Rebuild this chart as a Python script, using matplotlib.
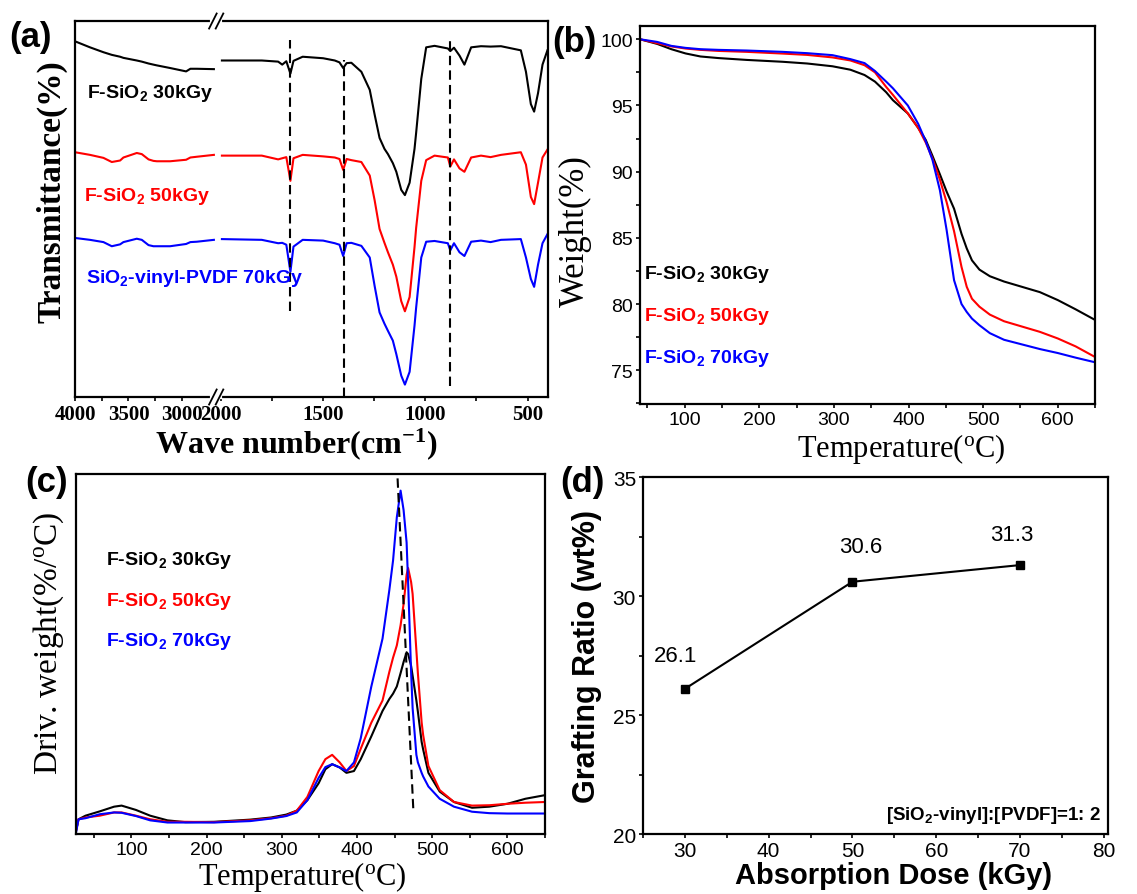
import numpy as np
import matplotlib
matplotlib.use('Agg')
import matplotlib.pyplot as plt
from matplotlib.ticker import MultipleLocator, FixedLocator

plt.rcParams['mathtext.default'] = 'regular'
SERIF = 'Liberation Serif'
SANS = 'Liberation Sans'

# ---- (a) FTIR, high wavenumber segment ----
wn_hi = [4000, 3860, 3734, 3656, 3578, 3547, 3422, 3375, 3312, 3266, 3234, 3110, 2960, 2920, 2860, 2700]
ir30_hi = [94.6, 93.0, 91.7, 91.0, 90.5, 90.2, 89.5, 89.2, 88.7, 88.4, 88.2, 87.5, 86.6, 87.3, 87.3, 87.2]
ir50_hi = [65.1, 64.4, 63.6, 62.5, 62.9, 63.7, 64.9, 64.6, 63.2, 62.8, 62.7, 62.7, 63.1, 63.7, 63.9, 64.4]
ir70_hi = [42.3, 41.8, 41.2, 40.1, 40.6, 41.2, 42.1, 41.8, 40.4, 40.1, 40.1, 40.1, 40.7, 41.2, 41.3, 41.8]

# ---- (a) FTIR, low wavenumber segment ----
wn_lo = [1995, 1800, 1720, 1700, 1680, 1660, 1645, 1600, 1500, 1443, 1420, 1402, 1385, 1362, 1313,
         1272, 1248, 1224, 1200, 1183, 1159, 1142, 1118, 1100, 1077, 1053, 1045, 1020, 996, 955,
         890, 878, 860, 833, 809, 776, 728, 681, 630, 533, 508, 484, 468, 449, 427, 403]
ir30_lo = [89.5, 89.5, 89.2, 88.4, 89.3, 86.0, 89.4, 90.5, 90.1, 89.5, 89.0, 87.5, 88.8, 88.9, 86.5,
           81.7, 75.1, 68.9, 66.0, 64.6, 62.2, 59.9, 55.1, 53.7, 57.0, 66.0, 70.3, 84.6, 93.0, 93.4,
           92.7, 92.0, 92.9, 90.8, 88.4, 93.0, 93.3, 93.2, 93.3, 92.2, 86.5, 77.9, 75.9, 80.8, 88.4, 92.2]
ir50_lo = [64.2, 64.2, 63.2, 63.5, 63.8, 57.5, 63.5, 64.4, 64.0, 63.7, 63.3, 60.4, 63.3, 63.0, 62.5,
           58.9, 52.3, 44.7, 41.0, 38.5, 35.2, 32.0, 25.5, 22.8, 26.6, 39.9, 45.0, 57.5, 63.0, 64.2,
           63.7, 61.3, 63.2, 60.8, 59.9, 63.7, 64.2, 63.8, 64.4, 65.1, 61.8, 53.2, 51.3, 57.0, 63.7, 65.8]
ir70_lo = [42.0, 41.8, 40.9, 41.0, 40.5, 33.3, 40.0, 41.8, 41.6, 40.9, 40.5, 37.5, 40.9, 41.0, 40.2,
           37.1, 29.5, 22.5, 19.5, 17.6, 15.0, 11.4, 5.7, 3.3, 6.7, 19.0, 23.8, 37.1, 41.3, 41.5,
           40.9, 39.0, 40.9, 38.5, 37.5, 41.3, 41.6, 41.2, 41.8, 42.0, 37.1, 31.4, 29.3, 35.2, 40.9, 43.3]
ir_marks = [1660, 1400, 880]
ir_mark_top = [95.0, 89.5, 95.4]
ir_mark_bot = [22.8, 0.0, 2.9]

# ---- (b) TGA ----
temp_b = [40, 63, 82, 101, 121, 145, 183, 231, 264, 298, 322, 341, 355, 370, 379, 399, 413, 423,
          432, 442, 451, 461, 471, 478, 485, 495, 509, 528, 552, 576, 600, 624, 650]
tg30 = [100, 99.65, 99.25, 98.93, 98.7, 98.58, 98.44, 98.3, 98.17, 97.96, 97.7, 97.3, 96.8, 96.0, 95.4,
        94.4, 93.3, 92.4, 91.2, 89.8, 88.5, 87.2, 85.3, 84.2, 83.3, 82.6, 82.1, 81.7, 81.3, 80.9,
        80.3, 79.6, 78.8]
tg50 = [100, 99.7, 99.46, 99.3, 99.2, 99.12, 99.05, 98.92, 98.82, 98.63, 98.4, 98.04, 97.5, 96.4, 95.8,
        94.4, 93.3, 92.2, 91.0, 89.4, 87.7, 85.5, 82.8, 81.3, 80.4, 79.8, 79.2, 78.7, 78.3, 77.9,
        77.4, 76.8, 76.0]
tg70 = [100, 99.8, 99.5, 99.35, 99.25, 99.2, 99.15, 99.05, 98.95, 98.8, 98.5, 98.2, 97.6, 96.8, 96.3,
        95.0, 93.6, 92.3, 90.9, 88.6, 85.6, 81.8, 80.0, 79.4, 78.9, 78.4, 77.8, 77.3, 76.95, 76.6,
        76.3, 75.95, 75.6]

# ---- (c) DTG ----
temp_c = [26.3, 29.7, 39, 58, 77, 87, 106, 125, 148, 172, 210, 258, 286, 306, 320, 334, 349, 358, 367,
          377, 386, 396, 405, 419, 434, 443, 448, 453, 458, 462, 466, 468, 472, 474, 479, 481, 486,
          488, 495, 510, 529, 553, 576, 600, 624, 650]
dtg30 = [0.008, 0.041, 0.051, 0.063, 0.076, 0.079, 0.067, 0.051, 0.038, 0.033, 0.034, 0.040, 0.046,
         0.054, 0.065, 0.094, 0.141, 0.180, 0.194, 0.185, 0.170, 0.175, 0.208, 0.271, 0.342, 0.375,
         0.390, 0.410, 0.447, 0.478, 0.505, 0.500, 0.467, 0.440, 0.371, 0.340, 0.256, 0.235, 0.170,
         0.118, 0.089, 0.073, 0.076, 0.084, 0.098, 0.108]
dtg50 = [0.008, 0.041, 0.046, 0.051, 0.060, 0.060, 0.051, 0.041, 0.034, 0.034, 0.033, 0.038, 0.044,
         0.051, 0.065, 0.103, 0.175, 0.208, 0.220, 0.199, 0.175, 0.189, 0.237, 0.309, 0.371, 0.450,
         0.490, 0.524, 0.580, 0.639, 0.720, 0.739, 0.700, 0.667, 0.510, 0.447, 0.310, 0.275, 0.189,
         0.122, 0.089, 0.079, 0.080, 0.084, 0.087, 0.089]
dtg70 = [0.003, 0.041, 0.044, 0.055, 0.060, 0.059, 0.050, 0.038, 0.032, 0.032, 0.032, 0.036, 0.043,
         0.050, 0.060, 0.094, 0.156, 0.186, 0.194, 0.185, 0.175, 0.199, 0.266, 0.409, 0.543, 0.677,
         0.760, 0.880, 0.954, 0.900, 0.810, 0.700, 0.450, 0.350, 0.220, 0.199, 0.170, 0.160, 0.132,
         0.098, 0.076, 0.062, 0.058, 0.057, 0.057, 0.057]
dtg_mark_t = [454, 475]
dtg_mark_v = [0.988, 0.065]

# ---- (d) grafting ratio ----
dose = [30, 50, 70]
graft = [26.1, 30.6, 31.3]
graft_lbl_x = [28.9, 51.0, 69.0]
graft_lbl_y = [27.5, 32.06, 32.6]

names = ['F-SiO$_2$ 30kGy', 'F-SiO$_2$ 50kGy', 'F-SiO$_2$ 70kGy']
colors = ['black', 'red', 'blue']


def frame(ax, lw=1.6):
    for s in ax.spines.values():
        s.set_linewidth(lw)


fig = plt.figure(figsize=(11.37, 8.95), dpi=100)

# ---------------- (a) ----------------
ax = fig.add_axes([0.0660, 0.5553, 0.4160, 0.4201])
brk_w = [-10000, 400, 2000, 2700, 4000, 20000]
brk_p = [-(472.5 + 10400 * 0.2043), -472.5, -145.7, -138.7, 0.0, 16000 * 0.1067]
ax.set_xscale('function', functions=(lambda w: np.interp(w, brk_w, brk_p),
                                     lambda q: np.interp(q, brk_p, brk_w)))
for hi, lo, c in zip([ir30_hi, ir50_hi, ir70_hi], [ir30_lo, ir50_lo, ir70_lo], colors):
    ax.plot(wn_hi, hi, color=c, lw=1.5)
    ax.plot(wn_lo, lo, color=c, lw=1.5)
for w, t, b in zip(ir_marks, ir_mark_top, ir_mark_bot):
    ax.plot([w, w], [b, t], color='black', lw=1.5, ls='--', dashes=(4.5, 2.5))
ax.set_xlim(4000, 400)
ax.set_ylim(0, 100)
ax.xaxis.set_major_locator(FixedLocator([4000, 3500, 3000, 2000, 1500, 1000, 500]))
ax.xaxis.set_minor_locator(FixedLocator([3750, 3250, 1750, 1250, 750]))
ax.tick_params(axis='x', which='both', direction='out', length=3, width=1.2, labelsize=15, pad=2)
ax.tick_params(axis='y', left=False, labelleft=False)
plt.setp(ax.get_xticklabels(), fontfamily=SERIF, fontweight='bold')
ax.set_xlabel('Wave number(cm$^{-1}$)', fontfamily=SERIF, fontweight='bold', fontsize=23)
ax.xaxis.set_label_coords(0.468, -0.075)
ax.set_ylabel('Transmittance(%)', fontfamily=SERIF, fontweight='bold', fontsize=24)
ax.yaxis.set_label_coords(-0.017, 0.55)
frame(ax)
# axis break marks
xc = 141 / 472.5
for y0 in (0, 1):
    ax.plot([xc - 0.008, xc + 0.008], [y0, y0], transform=ax.transAxes, color='white',
            lw=3, clip_on=False, zorder=5)
    for d in (-0.007, 0.007):
        ax.plot([xc + d - 0.008, xc + d + 0.008], [y0 - 0.02, y0 + 0.02], transform=ax.transAxes,
                color='black', lw=1.3, clip_on=False, zorder=6)
a_lbl = ['F-SiO$_2$ 30kGy', 'F-SiO$_2$ 50kGy', 'SiO$_2$-vinyl-PVDF 70kGy']
for s, x, y, c in zip(a_lbl, [0.026, 0.019, 0.023], [0.81, 0.537, 0.318], colors):
    ax.text(x, y, s, transform=ax.transAxes, color=c, fontsize=14, fontweight='bold',
            fontfamily=SANS, ha='left', va='center')

# ---------------- (b) ----------------
ax = fig.add_axes([0.5629, 0.5475, 0.4002, 0.4223])
for y, c in zip([tg30, tg50, tg70], colors):
    ax.plot(temp_b, y, color=c, lw=1.5)
ax.set_xlim(40, 650)
ax.set_ylim(72.45, 101.0)
ax.xaxis.set_major_locator(MultipleLocator(100))
ax.xaxis.set_minor_locator(MultipleLocator(50))
ax.yaxis.set_major_locator(MultipleLocator(5))
ax.yaxis.set_minor_locator(MultipleLocator(2.5))
ax.tick_params(which='both', direction='out', length=3, width=1.2, labelsize=14, pad=2)
plt.setp(ax.get_xticklabels() + ax.get_yticklabels(), fontfamily=SANS)
ax.set_xlabel('Temperature($^o$C)', fontfamily=SERIF, fontsize=22)
ax.xaxis.set_label_coords(0.575, -0.072)
ax.set_ylabel('Weight(%)', fontfamily=SERIF, fontsize=25)
ax.yaxis.set_label_coords(-0.105, 0.46)
frame(ax)
for s, y, c in zip(names, [0.346, 0.235, 0.123], colors):
    ax.text(0.009, y, s, transform=ax.transAxes, color=c, fontsize=14, fontweight='bold',
            fontfamily=SANS, ha='left', va='center')

# ---------------- (c) ----------------
ax = fig.add_axes([0.0668, 0.0670, 0.4125, 0.4022])
for y, c in zip([dtg30, dtg50, dtg70], colors):
    ax.plot(temp_c, y, color=c, lw=1.5)
ax.plot(dtg_mark_t, dtg_mark_v, color='black', lw=1.5, ls='--', dashes=(4.5, 2.5))
ax.set_xlim(26.3, 650)
ax.set_ylim(0, 1.0)
ax.xaxis.set_major_locator(MultipleLocator(100))
ax.xaxis.set_minor_locator(MultipleLocator(50))
ax.tick_params(axis='x', which='both', direction='out', length=3, width=1.2, labelsize=14, pad=2)
ax.tick_params(axis='y', left=False, labelleft=False)
plt.setp(ax.get_xticklabels(), fontfamily=SANS)
ax.set_xlabel('Temperature($^o$C)', fontfamily=SERIF, fontsize=22)
ax.xaxis.set_label_coords(0.482, -0.07)
ax.set_ylabel('Driv. weight(%/$^o$C)', fontfamily=SERIF, fontsize=24)
ax.yaxis.set_label_coords(-0.022, 0.533)
frame(ax)
for s, y, c in zip(names, [0.763, 0.650, 0.538], colors):
    ax.text(0.064, y, s, transform=ax.transAxes, color=c, fontsize=14, fontweight='bold',
            fontfamily=SANS, ha='left', va='center')

# ---------------- (d) ----------------
ax = fig.add_axes([0.5655, 0.0670, 0.4090, 0.3989])
ax.plot(dose, graft, color='black', lw=1.5, marker='s', ms=6)
for x, y, v in zip(graft_lbl_x, graft_lbl_y, graft):
    ax.text(x, y, '%.1f' % v, fontsize=16, fontfamily=SANS, ha='center', va='center')
ax.set_xlim(25, 80.5)
ax.set_ylim(20, 35)
ax.xaxis.set_major_locator(MultipleLocator(10))
ax.xaxis.set_minor_locator(MultipleLocator(5))
ax.yaxis.set_major_locator(MultipleLocator(5))
ax.yaxis.set_minor_locator(MultipleLocator(2.5))
ax.tick_params(which='both', direction='out', length=3, width=1.2, labelsize=15, pad=2)
plt.setp(ax.get_xticklabels() + ax.get_yticklabels(), fontfamily=SANS)
ax.set_xlabel('Absorption Dose (kGy)', fontfamily=SANS, fontweight='bold', fontsize=21)
ax.xaxis.set_label_coords(0.538, -0.075)
ax.set_ylabel('Grafting Ratio (wt%)', fontfamily=SANS, fontweight='bold', fontsize=22)
ax.yaxis.set_label_coords(-0.088, 0.5)
frame(ax)
ax.text(0.985, 0.055, '[SiO$_2$-vinyl]:[PVDF]=1: 2', transform=ax.transAxes, fontsize=13.5,
        fontweight='bold', fontfamily=SANS, ha='right', va='center')

# panel letters
for s, x, y in [('(a)', 0.008, 0.958), ('(b)', 0.486, 0.953), ('(c)', 0.022, 0.461), ('(d)', 0.493, 0.461)]:
    fig.text(x, y, s, fontsize=25, fontweight='bold', fontfamily=SANS, va='center', ha='left')

fig.savefig('out.png', dpi=100)
